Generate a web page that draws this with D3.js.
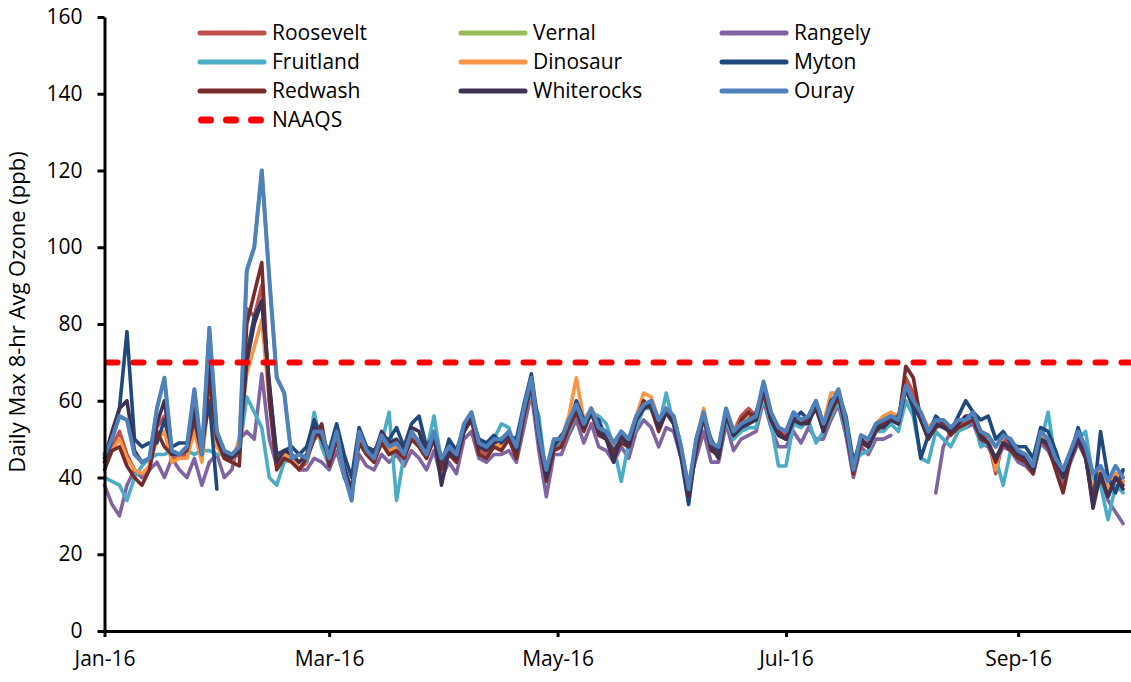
<!DOCTYPE html>
<html><head><meta charset="utf-8">
<script src="https://cdn.jsdelivr.net/npm/d3@7"></script>
<style>
body{margin:0;background:#fff}
svg{display:block}
text{font-family:"Open Sans",sans-serif;fill:#000}
</style>
</head><body>
<svg id="chart" width="1131" height="682"></svg>
<script>
// ---- Data (daily max 8-hr avg ozone, ppb; one value every 2 days from Jan 1 2016) ----
const startDate = "2016-01-01";
const stepDays = 2;
const seriesNames = ["Roosevelt","Vernal","Rangely","Fruitland","Dinosaur","Myton","Redwash","Whiterocks","Ouray"];
const seriesColors = ["#C0504D","#9BBB59","#8064A2","#4BACC6","#F79646","#1F497D","#772C2A","#403152","#4F81BD"];
const roosevelt = [44,48,52,46,42,40,43,53,56,45,45,46,56,45,70,50,46,45,46,84,82,90,62,44,45,45,42,44,51,52,44,50,41,36,50,46,44,50,47,48,45,51,48,45,51,43,47,45,53,56,47,46,49,48,51,46,57,65,50,40,48,49,54,59,53,58,52,51,47,50,49,55,59,59,54,58,55,47,36,48,57,48,47,57,52,56,58,56,63,56,52,51,56,55,56,59,53,58,62,54,42,50,49,53,55,56,55,66,62,56,51,54,54,52,54,55,56,51,50,41,50,49,46,45,42,51,49,44,38,46,51,46,33,41,36,41,39];
const vernal = [46,50,56,55,46,44,45,58,66,47,46,48,63,46,79,52,47,46,48,94,100,120,92,66,62,45,46,45,52,52,45,52,41,34,52,47,45,51,48,49,46,52,49,46,52,45,48,46,54,57,49,48,50,50,52,48,58,66,51,42,50,50,55,59,54,58,53,52,49,52,50,56,59,60,55,58,56,48,37,50,57,49,48,58,52,54,55,56,65,57,53,52,57,55,56,60,54,59,63,55,42,51,50,54,55,56,55,64,60,57,52,55,55,53,55,55,57,52,51,48,51,50,47,46,43,52,50,45,42,47,52,48,41,43,39,43,40];
const rangely = [38,33,30,38,42,40,42,44,40,45,42,40,45,38,44,46,40,42,50,52,50,67,50,43,45,46,42,42,45,44,42,47,40,36,46,43,42,46,44,46,43,47,45,42,47,40,44,41,50,52,45,44,46,46,47,44,53,62,47,35,46,46,51,55,49,54,48,47,44,48,45,52,55,53,48,53,52,45,38,45,52,44,44,54,47,50,51,52,60,53,48,48,52,49,53,50,50,55,59,51,40,48,46,50,50,51,null,null,null,null,null,36,48,52,53,53,54,49,48,44,48,47,44,43,41,49,47,43,39,44,49,45,36,40,34,31,28];
const fruitland = [40,39,38,34,40,43,45,46,46,47,46,47,46,47,47,46,46,45,47,61,57,53,40,38,44,45,46,44,57,48,43,50,40,38,50,46,45,49,57,34,46,50,50,47,56,44,49,47,53,55,48,47,50,54,53,46,57,62,56,40,48,50,52,57,55,57,56,54,48,39,49,53,58,58,53,62,54,47,38,48,55,48,47,55,50,52,53,53,61,54,43,43,54,53,55,49,52,56,60,52,44,46,47,52,52,54,52,60,56,45,44,52,50,48,52,53,56,48,49,45,38,47,45,44,41,49,57,44,40,45,50,52,40,38,29,38,36];
const dinosaur = [43,47,50,45,42,41,43,50,52,44,45,45,52,44,62,48,45,44,50,67,74,81,60,45,46,45,42,45,50,51,44,50,42,37,50,46,45,50,47,48,46,51,48,46,50,43,47,45,53,57,48,47,49,48,51,47,58,64,52,40,49,50,56,66,55,58,54,51,48,51,50,56,62,61,55,58,56,48,36,49,58,48,47,57,52,55,56,56,63,56,53,52,56,55,56,60,54,62,62,55,42,50,50,54,56,57,56,64,60,57,53,55,55,53,55,55,57,52,51,42,51,50,47,46,42,51,50,45,41,47,52,47,36,42,37,41,39];
const myton = [44,50,58,78,50,48,49,49,55,48,49,49,55,48,60,37,null,null,null,72,82,86,64,46,47,48,46,48,55,50,47,54,46,40,53,48,47,50,50,53,48,54,56,48,51,43,50,47,53,56,50,49,51,49,51,50,59,67,53,40,48,51,53,60,55,56,55,50,47,50,49,55,58,60,54,57,54,45,33,48,56,50,46,57,51,53,55,57,63,55,51,50,55,57,55,58,53,60,62,56,44,50,48,53,54,55,56,63,58,45,51,56,54,52,56,60,57,55,56,50,52,49,48,48,45,53,52,47,41,46,53,47,33,52,40,36,42];
const redwash = [42,47,48,43,40,38,42,52,48,46,46,47,55,46,66,50,45,44,43,80,88,96,60,42,45,44,42,45,50,54,43,50,42,37,49,46,44,49,46,47,45,50,48,45,50,42,46,44,52,55,46,45,48,47,50,45,56,64,50,39,47,48,53,57,52,57,51,50,46,49,48,55,60,58,52,57,55,46,35,47,56,47,46,56,51,55,57,55,62,55,52,50,55,54,55,58,52,57,61,53,41,49,48,52,54,55,54,69,66,55,50,53,54,51,53,54,55,50,49,44,49,47,45,44,41,50,48,42,36,45,50,45,34,40,35,40,38];
const whiterocks = [45,52,58,60,47,44,45,54,60,46,46,48,58,46,72,51,46,45,47,70,80,86,65,44,47,46,44,46,53,50,45,52,43,36,52,47,46,52,49,50,47,53,52,46,51,38,47,45,52,56,48,47,49,50,51,47,57,65,50,40,49,50,55,58,53,57,52,50,44,51,48,55,58,59,53,57,54,46,35,48,56,48,45,57,51,53,54,55,64,55,51,50,55,54,54,59,52,58,62,53,42,50,48,53,53,55,54,63,59,55,50,54,53,52,54,56,56,51,49,45,49,48,46,45,42,50,49,44,40,45,50,46,32,41,35,40,37];
const ouray = [46,50,56,55,46,44,45,58,66,47,46,48,63,46,79,52,47,46,48,94,100,120,92,66,62,45,46,45,52,52,45,52,41,34,52,47,45,51,48,49,46,52,49,46,52,45,48,46,54,57,49,48,50,50,52,48,58,66,51,42,50,50,55,59,54,58,53,52,49,52,50,56,59,60,55,58,56,48,37,50,57,49,48,58,52,54,55,56,65,57,53,52,57,55,56,60,54,59,63,55,42,51,50,54,55,56,55,64,60,57,52,55,55,53,55,55,57,52,51,48,51,50,47,46,43,52,50,45,42,47,52,48,41,43,39,43,40];
const naaqsValue = 70;
const yTickValues = [0,20,40,60,80,100,120,140,160];
const xTickLabels = ["2016-01-01","2016-03-01","2016-05-01","2016-07-01","2016-09-01"];
const xDomain = ["2016-01-01","2016-10-01"];

const seriesValues = [roosevelt,vernal,rangely,fruitland,dinosaur,myton,redwash,whiterocks,ouray];

// ---- Drawing ----
const parse = d3.timeParse("%Y-%m-%d");
const start = parse(startDate);
const dates = roosevelt.map((_, i) => d3.timeDay.offset(start, i * stepDays));

const svg = d3.select("#chart");
const x = d3.scaleTime().domain(xDomain.map(parse)).range([104.5, 1130.5]);
const y = d3.scaleLinear().domain([0, 160]).range([631, 17]);

const line = d3.line()
  .defined(v => v != null)
  .x((v, i) => x(dates[i]))
  .y(v => y(v));

const gLines = svg.append("g");
seriesValues.forEach((vals, k) => {
  gLines.append("path")
    .attr("d", line(vals))
    .attr("fill", "none")
    .attr("stroke", seriesColors[k])
    .attr("stroke-width", k === 8 ? 4 : 3.6)
    .attr("stroke-linejoin", "round")
    .attr("stroke-linecap", "round");
});

// NAAQS
svg.append("line")
  .attr("x1", x.range()[0] + 3).attr("x2", x.range()[1])
  .attr("y1", y(naaqsValue)).attr("y2", y(naaqsValue))
  .attr("stroke", "#FF0000").attr("stroke-width", 6)
  .attr("stroke-dasharray", "10,16").attr("stroke-linecap", "round");

// Axes
const yAxis = svg.append("g").attr("transform", `translate(${x.range()[0]},0)`)
  .call(d3.axisLeft(y).tickValues(yTickValues).tickSize(7).tickSizeOuter(0).tickPadding(15));
const xAxis = svg.append("g").attr("transform", `translate(0,${y(0)})`)
  .call(d3.axisBottom(x).tickValues(xTickLabels.map(parse)).tickFormat(d3.timeFormat("%b-%y")).tickSize(6).tickSizeOuter(0).tickPadding(22));
[yAxis, xAxis].forEach(g => {
  g.select(".domain").attr("stroke", "#000").attr("stroke-width", 3);
  g.selectAll(".tick line").attr("stroke", "#000").attr("stroke-width", 3);
  g.selectAll(".tick text").style("font-size", "21px").attr("fill", "#000");
});
xAxis.selectAll(".tick text").attr("dy", "0.35em");

// Y title
svg.append("text")
  .attr("transform", "translate(25,312) rotate(-90)")
  .attr("text-anchor", "middle")
  .style("font-size", "22px")
  .text("Daily Max 8-hr Avg Ozone (ppb)");

// Legend
const colX = [198, 459, 720];
const rowY = [33, 62, 91, 120];
const legend = svg.append("g");
seriesNames.forEach((name, k) => {
  const cx = colX[k % 3], cy = rowY[Math.floor(k / 3)];
  legend.append("line").attr("x1", cx + 2).attr("x2", cx + 66).attr("y1", cy).attr("y2", cy)
    .attr("stroke", seriesColors[k]).attr("stroke-width", 5).attr("stroke-linecap", "round");
  legend.append("text").attr("x", cx + 74).attr("y", cy).attr("dy", "0.35em")
    .style("font-size", "21px").text(name);
});
legend.append("line").attr("x1", colX[0] + 3.5).attr("x2", colX[0] + 63.5)
  .attr("y1", rowY[3]).attr("y2", rowY[3])
  .attr("stroke", "#FF0000").attr("stroke-width", 7)
  .attr("stroke-dasharray", "9,16").attr("stroke-linecap", "round");
legend.append("text").attr("x", colX[0] + 74).attr("y", rowY[3]).attr("dy", "0.35em")
  .style("font-size", "21px").text("NAAQS");
</script>
</body></html>
